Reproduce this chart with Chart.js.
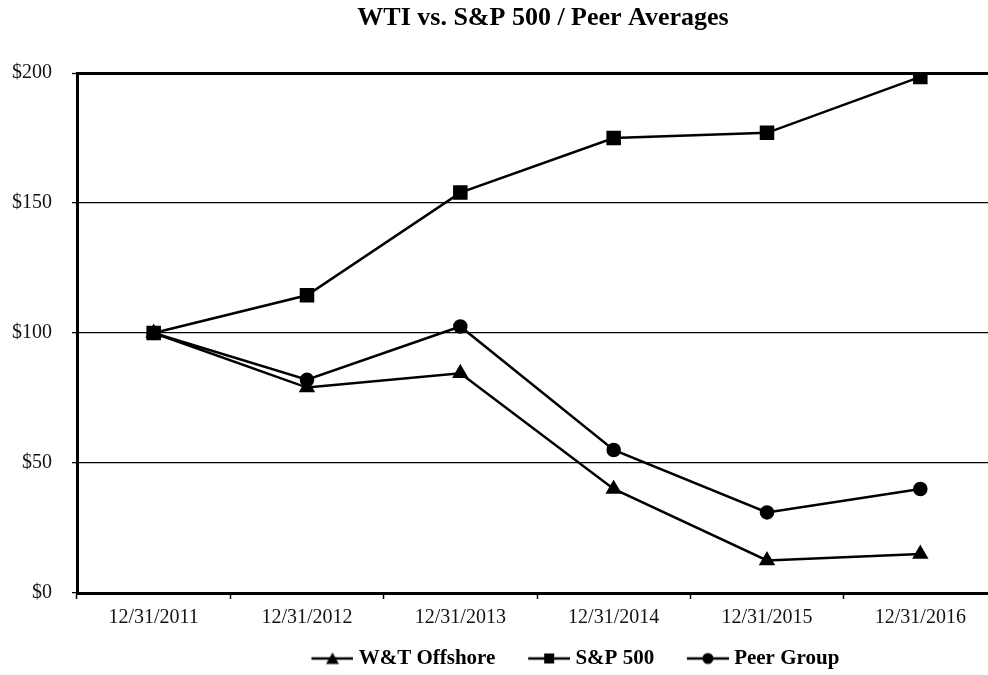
<!DOCTYPE html>
<html>
<head>
<meta charset="utf-8">
<script src="https://cdn.jsdelivr.net/npm/chart.js@4"></script>
<style>
  html, body { margin: 0; padding: 0; background: #fff; overflow: hidden; }
  canvas { display: block; }
</style>
</head>
<body>
<canvas id="wti_chart" width="1086" height="675"></canvas>
<script>
const years = ['12/31/2011', '12/31/2012', '12/31/2013', '12/31/2014', '12/31/2015', '12/31/2016'];
const wtOffshore = [100, 79, 84.5, 40, 12.5, 15];
const sp500 = [100, 114.5, 154, 175, 177, 198.5];
const peerGroup = [100, 82, 102.5, 55, 31, 40];
const yTicks = [0, 50, 100, 150, 200];

// line+marker pictures for the legend (transparent space on the left keeps the gap between items)
function legendIcon(style) {
    const c = document.createElement('canvas');
    c.width = 72; c.height = 14;
    const g = c.getContext('2d');
    const x0 = 30, mid = 51;
    g.strokeStyle = '#000';
    g.fillStyle = '#000';
    g.lineWidth = 2.5;
    g.beginPath(); g.moveTo(x0, 7); g.lineTo(72, 7); g.stroke();
    g.beginPath();
    if (style === 'triangle') {
        g.moveTo(mid, 1); g.lineTo(mid + 6.5, 12.5); g.lineTo(mid - 6.5, 12.5); g.closePath();
    } else if (style === 'rect') {
        g.rect(mid - 5, 2, 10, 10);
    } else {
        g.arc(mid, 7, 5.5, 0, Math.PI * 2);
    }
    g.fill();
    return c;
}

const shiftLegend = {
    id: 'shiftLegend',
    afterLayout(chart) {
        const lg = chart.legend;
        lg.left += 20; lg.right += 20;
        lg.top += 4; lg.bottom += 4;
    }
};

const serif = '"Liberation Serif", "Times New Roman", serif';

new Chart(document.getElementById('wti_chart').getContext('2d'), {
    type: 'line',
    data: {
        labels: years,
        datasets: [
            {
                label: 'W&T Offshore',
                data: wtOffshore,
                order: 1,
                borderColor: '#000',
                backgroundColor: '#000',
                borderWidth: 2.5,
                pointStyle: 'triangle',
                pointRadius: 7,
                pointHoverRadius: 7
            },
            {
                label: 'S&P 500',
                data: sp500,
                order: 0,
                borderColor: '#000',
                backgroundColor: '#000',
                borderWidth: 2.5,
                pointStyle: 'rect',
                pointRadius: 8.5,
                pointHoverRadius: 8.5
            },
            {
                label: 'Peer Group',
                data: peerGroup,
                order: 2,
                borderColor: '#000',
                backgroundColor: '#000',
                borderWidth: 2.5,
                pointStyle: 'circle',
                pointRadius: 6,
                pointHoverRadius: 6
            }
        ]
    },
    options: {
        responsive: false,
        animation: false,
        layout: { padding: 0 },
        plugins: {
            title: {
                display: true,
                text: 'WTI vs. S&P 500 / Peer Averages',
                color: '#000',
                font: { family: serif, size: 26, weight: 'bold', lineHeight: 1.2 },
                padding: { top: 3, bottom: 38.8 }
            },
            legend: {
                position: 'bottom',
                labels: {
                    usePointStyle: true,
                    pointStyleWidth: 61.5,
                    padding: 8,
                    color: '#000',
                    font: { family: serif, size: 21, weight: 'bold' },
                    sort: (a, b) => a.datasetIndex - b.datasetIndex,
                    generateLabels(chart) {
                        const items = Chart.defaults.plugins.legend.labels.generateLabels(chart);
                        const styles = ['triangle', 'rect', 'circle'];
                        items.forEach(it => { it.pointStyle = legendIcon(styles[it.datasetIndex]); });
                        return items;
                    }
                }
            },
            tooltip: { enabled: false }
        },
        scales: {
            x: {
                offset: true,
                grid: {
                    offset: true,
                    drawOnChartArea: false,
                    drawTicks: true,
                    tickLength: 6,
                    tickWidth: 1.5,
                    tickColor: '#000'
                },
                border: { display: true, color: '#000', width: 3 },
                ticks: {
                    color: '#111',
                    padding: 7,
                    maxRotation: 0,
                    font: { family: serif, size: 20 }
                },
                afterFit(s) { s.height = 43; }
            },
            y: {
                min: 0,
                max: 200,
                afterBuildTicks(s) { s.ticks = yTicks.map(v => ({ value: v })); },
                grid: {
                    color: '#000',
                    lineWidth: ctx => (ctx.tick && ctx.tick.value === 200 ? 3 : 1.3),
                    tickLength: 5,
                    tickWidth: 1.3,
                    tickColor: '#000'
                },
                border: { display: true, color: '#000', width: 3 },
                ticks: {
                    color: '#111',
                    padding: 20,
                    font: { family: serif, size: 20 },
                    callback: v => '$' + v
                },
                afterFit(s) { s.width = 77; }
            },
            yRight: {
                position: 'right',
                display: true,
                grid: { display: false },
                border: { display: false },
                ticks: { display: false },
                afterFit(s) { s.width = 89; }
            }
        }
    },
    plugins: [shiftLegend]
});
</script>
</body>
</html>
